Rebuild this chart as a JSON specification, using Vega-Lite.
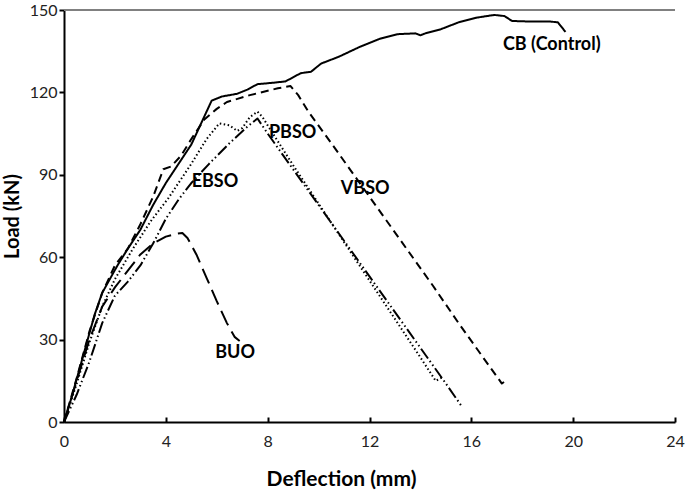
{
  "$schema": "https://vega.github.io/schema/vega-lite/v6.json",
  "width": 611,
  "height": 412,
  "autosize": {"type": "none"},
  "padding": {"left": 64, "top": 10, "right": 10, "bottom": 70},
  "background": "white",
  "config": {
    "view": {"stroke": null},
    "font": "Lato",
    "axis": {"grid": false, "domainColor": "black", "tickColor": "black", "labelColor": "#222", "titleColor": "black", "labelFont": "Lato", "titleFont": "Lato"}
  },
  "datasets": {
    "curves": [
      {"s":"CB","i":0,"d":0,"load":0},{"s":"CB","i":1,"d":0.3,"load":9},{"s":"CB","i":2,"d":0.6,"load":19},{"s":"CB","i":3,"d":0.9,"load":29},{"s":"CB","i":4,"d":1.2,"load":39},{"s":"CB","i":5,"d":1.5,"load":47},{"s":"CB","i":6,"d":1.8,"load":52},{"s":"CB","i":7,"d":2.1,"load":57},{"s":"CB","i":8,"d":2.5,"load":63},{"s":"CB","i":9,"d":3.0,"load":70},{"s":"CB","i":10,"d":3.5,"load":79},{"s":"CB","i":11,"d":4.0,"load":87},{"s":"CB","i":12,"d":4.5,"load":94},{"s":"CB","i":13,"d":5.0,"load":101},{"s":"CB","i":14,"d":5.4,"load":109},{"s":"CB","i":15,"d":5.8,"load":117},{"s":"CB","i":16,"d":6.2,"load":118.5},{"s":"CB","i":17,"d":6.8,"load":119.5},{"s":"CB","i":18,"d":7.2,"load":121},{"s":"CB","i":19,"d":7.6,"load":123},{"s":"CB","i":20,"d":8.2,"load":123.5},{"s":"CB","i":21,"d":8.7,"load":124},{"s":"CB","i":22,"d":9.3,"load":127},{"s":"CB","i":23,"d":9.7,"load":127.5},{"s":"CB","i":24,"d":10.1,"load":130.5},{"s":"CB","i":25,"d":10.8,"load":133},{"s":"CB","i":26,"d":11.6,"load":136.5},{"s":"CB","i":27,"d":12.4,"load":139.5},{"s":"CB","i":28,"d":13.1,"load":141.2},{"s":"CB","i":29,"d":13.8,"load":141.5},{"s":"CB","i":30,"d":14.0,"load":140.8},{"s":"CB","i":31,"d":14.2,"load":141.5},{"s":"CB","i":32,"d":14.8,"load":143},{"s":"CB","i":33,"d":15.5,"load":145.5},{"s":"CB","i":34,"d":16.2,"load":147.2},{"s":"CB","i":35,"d":16.9,"load":148.2},{"s":"CB","i":36,"d":17.3,"load":147.8},{"s":"CB","i":37,"d":17.6,"load":146},{"s":"CB","i":38,"d":18.3,"load":145.8},{"s":"CB","i":39,"d":19.1,"load":145.8},{"s":"CB","i":40,"d":19.4,"load":145.5},{"s":"CB","i":41,"d":19.7,"load":142},
      {"s":"VBSO","i":0,"d":0,"load":0},{"s":"VBSO","i":1,"d":0.5,"load":16},{"s":"VBSO","i":2,"d":1,"load":33},{"s":"VBSO","i":3,"d":1.5,"load":47},{"s":"VBSO","i":4,"d":2,"load":57},{"s":"VBSO","i":5,"d":2.5,"load":63},{"s":"VBSO","i":6,"d":3,"load":72},{"s":"VBSO","i":7,"d":3.5,"load":82},{"s":"VBSO","i":8,"d":3.9,"load":92},{"s":"VBSO","i":9,"d":4.2,"load":93},{"s":"VBSO","i":10,"d":4.6,"load":97},{"s":"VBSO","i":11,"d":5.0,"load":103},{"s":"VBSO","i":12,"d":5.5,"load":110},{"s":"VBSO","i":13,"d":6.0,"load":114},{"s":"VBSO","i":14,"d":6.4,"load":116.5},{"s":"VBSO","i":15,"d":7.3,"load":119},{"s":"VBSO","i":16,"d":8.4,"load":121.5},{"s":"VBSO","i":17,"d":8.9,"load":122.3},{"s":"VBSO","i":18,"d":9.2,"load":119},{"s":"VBSO","i":19,"d":9.6,"load":113},{"s":"VBSO","i":20,"d":10.5,"load":101.5},{"s":"VBSO","i":21,"d":11.5,"load":88.5},{"s":"VBSO","i":22,"d":12.5,"load":75.5},{"s":"VBSO","i":23,"d":13.5,"load":62.5},{"s":"VBSO","i":24,"d":14.5,"load":49.5},{"s":"VBSO","i":25,"d":15.5,"load":36},{"s":"VBSO","i":26,"d":16.5,"load":23},{"s":"VBSO","i":27,"d":17.2,"load":14},{"s":"VBSO","i":28,"d":17.35,"load":15},
      {"s":"PBSO","i":0,"d":0,"load":0},{"s":"PBSO","i":1,"d":0.5,"load":14},{"s":"PBSO","i":2,"d":1,"load":29},{"s":"PBSO","i":3,"d":1.5,"load":42},{"s":"PBSO","i":4,"d":2,"load":52},{"s":"PBSO","i":5,"d":2.7,"load":63},{"s":"PBSO","i":6,"d":3.4,"load":73},{"s":"PBSO","i":7,"d":4.1,"load":81.5},{"s":"PBSO","i":8,"d":5.0,"load":94},{"s":"PBSO","i":9,"d":5.6,"load":103},{"s":"PBSO","i":10,"d":6.1,"load":108.7},{"s":"PBSO","i":11,"d":6.5,"load":108},{"s":"PBSO","i":12,"d":6.8,"load":106},{"s":"PBSO","i":13,"d":7.0,"load":107},{"s":"PBSO","i":14,"d":7.3,"load":111},{"s":"PBSO","i":15,"d":7.6,"load":113},{"s":"PBSO","i":16,"d":7.8,"load":111},{"s":"PBSO","i":17,"d":8.0,"load":108},{"s":"PBSO","i":18,"d":9,"load":93.5},{"s":"PBSO","i":19,"d":10,"load":79.5},{"s":"PBSO","i":20,"d":11,"load":65.5},{"s":"PBSO","i":21,"d":12,"load":51.5},{"s":"PBSO","i":22,"d":13,"load":37.5},{"s":"PBSO","i":23,"d":14,"load":23.5},{"s":"PBSO","i":24,"d":14.6,"load":15},{"s":"PBSO","i":25,"d":14.85,"load":16.2},
      {"s":"EBSO","i":0,"d":0,"load":0},{"s":"EBSO","i":1,"d":0.5,"load":10},{"s":"EBSO","i":2,"d":1,"load":22},{"s":"EBSO","i":3,"d":1.5,"load":36},{"s":"EBSO","i":4,"d":2,"load":46},{"s":"EBSO","i":5,"d":2.5,"load":51},{"s":"EBSO","i":6,"d":3,"load":57},{"s":"EBSO","i":7,"d":3.5,"load":65},{"s":"EBSO","i":8,"d":4,"load":74},{"s":"EBSO","i":9,"d":4.5,"load":81},{"s":"EBSO","i":10,"d":5,"load":87},{"s":"EBSO","i":11,"d":5.7,"load":94},{"s":"EBSO","i":12,"d":6.5,"load":101.5},{"s":"EBSO","i":13,"d":7.2,"load":107.5},{"s":"EBSO","i":14,"d":7.6,"load":110.5},{"s":"EBSO","i":15,"d":8,"load":105},{"s":"EBSO","i":16,"d":9,"load":92},{"s":"EBSO","i":17,"d":10,"load":79},{"s":"EBSO","i":18,"d":11,"load":66},{"s":"EBSO","i":19,"d":12,"load":53},{"s":"EBSO","i":20,"d":13,"load":40},{"s":"EBSO","i":21,"d":14,"load":27},{"s":"EBSO","i":22,"d":15,"load":14},{"s":"EBSO","i":23,"d":15.6,"load":6},
      {"s":"BUO","i":0,"d":0,"load":0},{"s":"BUO","i":1,"d":0.5,"load":15},{"s":"BUO","i":2,"d":1,"load":30},{"s":"BUO","i":3,"d":1.5,"load":42},{"s":"BUO","i":4,"d":2,"load":49},{"s":"BUO","i":5,"d":2.5,"load":55},{"s":"BUO","i":6,"d":3,"load":61},{"s":"BUO","i":7,"d":3.5,"load":65},{"s":"BUO","i":8,"d":4,"load":67.5},{"s":"BUO","i":9,"d":4.4,"load":68.5},{"s":"BUO","i":10,"d":4.65,"load":68.8},{"s":"BUO","i":11,"d":4.85,"load":67},{"s":"BUO","i":12,"d":5.2,"load":61},{"s":"BUO","i":13,"d":5.6,"load":52.5},{"s":"BUO","i":14,"d":6,"load":44},{"s":"BUO","i":15,"d":6.4,"load":36},{"s":"BUO","i":16,"d":6.7,"load":31},{"s":"BUO","i":17,"d":6.9,"load":29.5}
    ],
    "labels": [
      {"label":"CB (Control)","d":19.16,"load":137.2},
      {"label":"VBSO","d":11.83,"load":84.8},
      {"label":"PBSO","d":8.98,"load":105.4},
      {"label":"EBSO","d":5.93,"load":87.2},
      {"label":"BUO","d":6.72,"load":25.3}
    ]
  },
  "layer": [
    {
      "data": {"values": [{"top": 150}]},
      "mark": {"type": "rule", "color": "#808080", "strokeWidth": 2},
      "encoding": {"y": {"field": "top", "type": "quantitative", "scale": {"domain": [0, 150]}}}
    },
    {
      "data": {"name": "curves"},
      "mark": {"type": "line", "color": "black", "strokeCap": "butt", "strokeJoin": "round"},
      "encoding": {
        "x": {"field": "d", "type": "quantitative", "scale": {"domain": [0, 24], "nice": false},
          "axis": {"values": [0,4,8,12,16,20,24], "title": "Deflection (mm)", "tickSize": -5, "tickWidth": 2, "domainWidth": 2, "labelFontSize": 16, "labelPadding": 16, "labelFlush": false, "labelOverlap": false, "titleFontSize": 21, "titleFontWeight": "bold", "titleX": 277, "titleY": 63, "titleBaseline": "alphabetic"}},
        "y": {"field": "load", "type": "quantitative", "scale": {"domain": [0, 150], "nice": false},
          "axis": {"values": [0,30,60,90,120,150], "title": "Load (kN)", "tickSize": 5, "tickWidth": 2, "domainWidth": 2, "labelFontSize": 16, "labelPadding": 2, "labelFlush": false, "titleFontSize": 20, "titleFontWeight": "bold", "titleX": -52, "titleY": 206, "titleAngle": 270, "titleAlign": "center", "titleBaseline": "middle"}},
        "detail": {"field": "s"},
        "order": {"field": "i", "type": "quantitative"},
        "strokeDash": {"field": "s", "type": "nominal", "legend": null,
          "scale": {"domain": ["CB","VBSO","PBSO","EBSO","BUO"], "range": [[1,0],[8,5],[1.5,2.5],[12,3,1.5,3,1.5,3],[16,7]]}},
        "strokeWidth": {"field": "s", "type": "nominal", "legend": null,
          "scale": {"domain": ["CB","VBSO","PBSO","EBSO","BUO"], "range": [2,2,1.6,2,2]}}
      }
    },
    {
      "data": {"name": "labels"},
      "mark": {"type": "text", "font": "Lato", "fontWeight": "bold", "fontSize": 18, "color": "black", "align": "center", "baseline": "middle"},
      "encoding": {
        "x": {"field": "d", "type": "quantitative"},
        "y": {"field": "load", "type": "quantitative"},
        "text": {"field": "label"}
      }
    }
  ]
}
